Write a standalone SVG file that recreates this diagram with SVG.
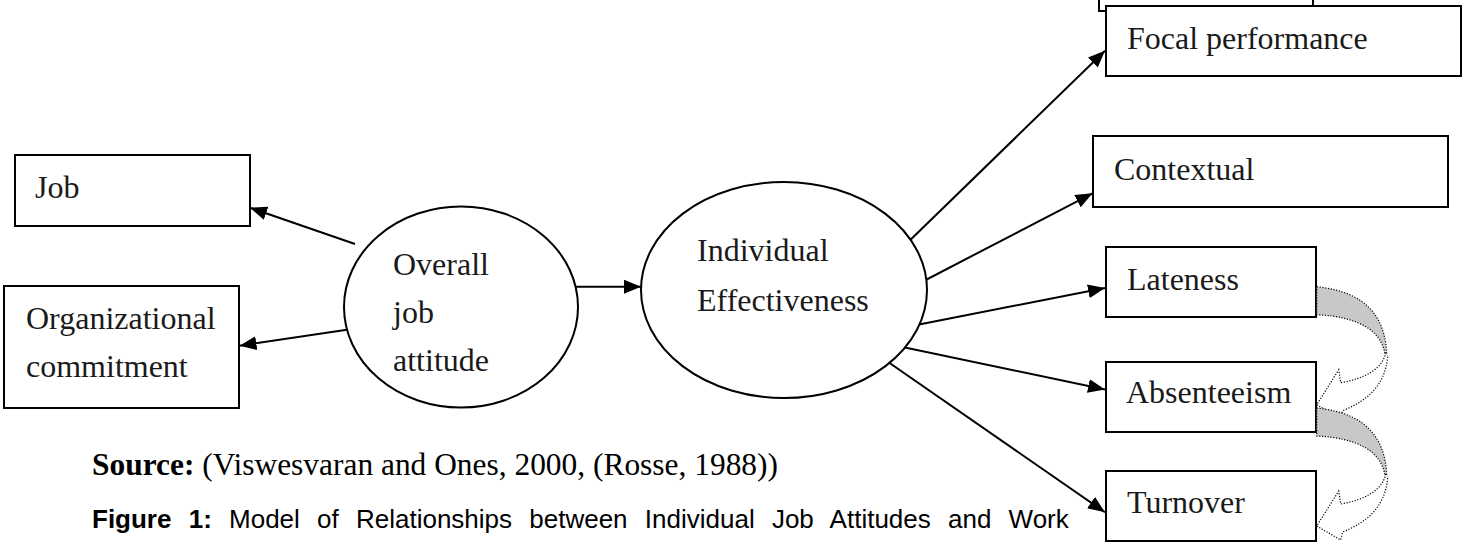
<svg xmlns="http://www.w3.org/2000/svg" width="1465" height="546" viewBox="0 0 1465 546">
  <style>
    .box { fill: #ffffff; stroke: #000000; stroke-width: 2; }
    .oval { fill: #ffffff; stroke: #000000; stroke-width: 2; }
    .lbl { font-family: "Liberation Serif", "Times New Roman", serif; font-size: 32px; fill: #1a1a1a; }
    .edge { fill: none; stroke: #000000; stroke-width: 2; marker-end: url(#head); }
    .back { fill: #c8c8c8; stroke: #000000; stroke-width: 1.2; stroke-dasharray: 1.2 1.6; }
    .front { fill: #ffffff; stroke: #000000; stroke-width: 1.2; stroke-dasharray: 1.2 1.6; }
    .src { font-family: "Liberation Serif", "Times New Roman", serif; font-size: 32px; fill: #000000; }
    .cap { font-family: "Liberation Sans", Arial, sans-serif; font-size: 26px; fill: #000000; word-spacing: 10px; }
  </style>
  <defs>
    <marker id="head" markerUnits="userSpaceOnUse" markerWidth="18" markerHeight="14" refX="17" refY="7" orient="auto">
      <path d="M0,0 L17,7 L0,14 z" fill="#000000"/>
    </marker>
    <!-- curved left arrow: grey back band plus dotted front band with head -->
    <g id="curl">
      <path class="back" d="M0,0 C28,3 50,12 62,34 C68,46 70,58 70,70 L68,66 C64,44 42,30 0,28 z"/>
      <path class="front" d="M69,66 C66,82 48,92 24,96 L22,83 L0,118 L24,132 L26,124 C50,114 68,100 71,70"/>
    </g>
  </defs>

  <!-- connectors sit underneath the nodes so the ovals trim their start -->
  <g id="connectors">
    <line class="edge" x1="355" y1="244" x2="250" y2="207.7"/>
    <line class="edge" x1="352" y1="329" x2="239.5" y2="345.7"/>
    <line class="edge" x1="570" y1="286.7" x2="641" y2="286.7"/>
    <line class="edge" x1="902" y1="248" x2="1105" y2="50.7"/>
    <line class="edge" x1="918" y1="284" x2="1092.5" y2="193.3"/>
    <line class="edge" x1="914" y1="325.5" x2="1105" y2="288"/>
    <line class="edge" x1="893" y1="345" x2="1105" y2="389.5"/>
    <line class="edge" x1="878" y1="355" x2="1105" y2="512.3"/>
  </g>

  <!-- box partly cut off at the top edge -->
  <g id="top-box">
    <rect class="box" x="1099" y="-10" width="214" height="21"/>
  </g>

  <g id="job">
    <rect class="box" x="15" y="155" width="235" height="71"/>
    <text class="lbl" x="35" y="198">Job</text>
  </g>

  <g id="org-commitment">
    <rect class="box" x="4" y="286" width="235" height="122"/>
    <text class="lbl" x="26" y="329">Organizational</text>
    <text class="lbl" x="26" y="377">commitment</text>
  </g>

  <g id="overall-attitude">
    <ellipse class="oval" cx="461" cy="307" rx="117" ry="100.5"/>
    <text class="lbl" x="393" y="275">Overall</text>
    <text class="lbl" x="393" y="323">job</text>
    <text class="lbl" x="393" y="371">attitude</text>
  </g>

  <g id="individual-effectiveness">
    <ellipse class="oval" cx="784" cy="290" rx="143" ry="108"/>
    <text class="lbl" x="697" y="261">Individual</text>
    <text class="lbl" x="697" y="311">Effectiveness</text>
  </g>

  <g id="focal">
    <rect class="box" x="1106" y="6" width="355" height="70"/>
    <text class="lbl" x="1127" y="49">Focal performance</text>
  </g>

  <g id="contextual">
    <rect class="box" x="1093" y="136" width="355" height="71"/>
    <text class="lbl" x="1114" y="180">Contextual</text>
  </g>

  <g id="lateness">
    <rect class="box" x="1106" y="247" width="210" height="70"/>
    <text class="lbl" x="1127" y="290">Lateness</text>
  </g>

  <g id="absenteeism">
    <rect class="box" x="1106" y="362" width="210" height="70"/>
    <text class="lbl" x="1126" y="403">Absenteeism</text>
  </g>

  <g id="turnover">
    <rect class="box" x="1106" y="471" width="210" height="70"/>
    <text class="lbl" x="1127" y="513">Turnover</text>
  </g>

  <!-- dotted curved arrows chaining lateness, absenteeism and turnover -->
  <g id="sequence-arrows">
    <use href="#curl" x="1316.7" y="286.7"/>
    <use href="#curl" x="1316.7" y="408"/>
  </g>

  <g id="caption">
    <text class="src" x="92" y="475" textLength="686" lengthAdjust="spacingAndGlyphs"><tspan font-weight="bold">Source:</tspan> (Viswesvaran and Ones, 2000, (Rosse, 1988))</text>
    <text class="cap" x="92" y="528"><tspan font-weight="bold">Figure 1:</tspan> Model of Relationships between Individual Job Attitudes and Work</text>
  </g>
</svg>
